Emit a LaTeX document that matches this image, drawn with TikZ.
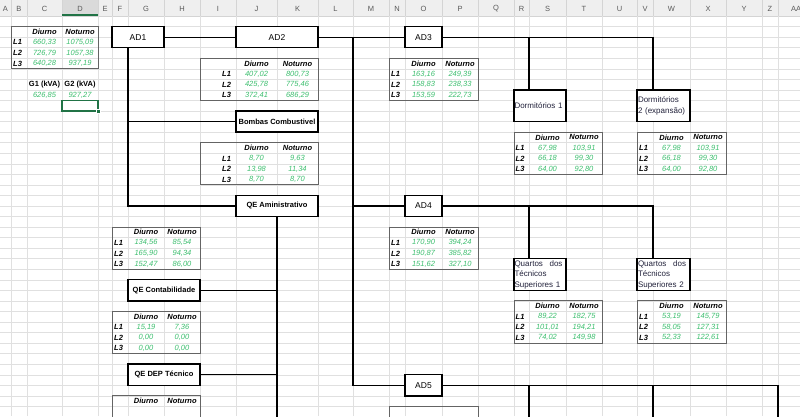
\documentclass[tikz,border=0pt]{standalone}
\usepackage{fontspec}
\setmainfont{Liberation Sans}
\usetikzlibrary{positioning}

\definecolor{grade}{RGB}{224,224,224}
\definecolor{cabecalho}{RGB}{239,239,239}
\definecolor{cabsel}{RGB}{218,218,218}
\definecolor{sepcab}{RGB}{212,212,212}
\definecolor{verdevalor}{RGB}{60,190,110}
\definecolor{verdeexcel}{RGB}{33,115,70}
\definecolor{bordatab}{RGB}{100,100,100}
\definecolor{letracol}{RGB}{90,90,90}
\definecolor{textocaixa}{RGB}{35,35,60}

\tikzset{
  caixa/.style={draw, line width=1.4pt, fill=white, inner sep=0pt,
    font=\fontsize{8.5}{10}\selectfont},
  caixanegrito/.style={caixa, font=\fontsize{7.5}{9}\selectfont\bfseries},
  caixatexto/.style={caixa, font=\fontsize{8}{10.55}\selectfont, align=left,
    text width=51pt, text=textocaixa},
  liga/.style={line width=1.2pt},
  cab/.style={font=\fontsize{7.5}{9}\selectfont\bfseries\itshape, inner sep=0pt},
  valor/.style={font=\fontsize{7.5}{9}\selectfont\itshape, text=verdevalor, inner sep=0pt},
  letra/.style={font=\fontsize{7.5}{9}\selectfont, text=letracol, inner sep=0pt},
  tabborda/.style={draw=bordatab, line width=0.9pt},
}

% tabela de cargas: nome, x da borda, x Diurno, x Noturno, x final, y do topo
\newcommand{\tabcarga}[6]{%
  \def\tnome{#1}\def\txa{#2}\def\txb{#3}\def\txc{#4}\def\txd{#5}\def\tya{#6}%
  \tabvalores}
% valores: L1 diurno/noturno, L2 diurno/noturno, L3 diurno/noturno
\newcommand{\tabvalores}[6]{%
  \draw[tabborda] (\txa,\tya) rectangle (\txd,{\tya+42.2});
  \node[cab] (\tnome-d) at ({(\txb+\txc)/2},{\tya+5.275}) {Diurno};
  \node[cab] (\tnome-n) at ({(\txc+\txd)/2},{\tya+5.275}) {Noturno};
  \node[cab, anchor=west] (\tnome-l1) at ({max(\txa+1.5,\txb-14)},{\tya+15.825}) {L1};
  \node[cab, anchor=west] (\tnome-l2) at ({max(\txa+1.5,\txb-14)},{\tya+26.375}) {L2};
  \node[cab, anchor=west] (\tnome-l3) at ({max(\txa+1.5,\txb-14)},{\tya+36.925}) {L3};
  \node[valor] (\tnome-d1) at ({(\txb+\txc)/2},{\tya+15.825}) {#1};
  \node[valor] (\tnome-n1) at ({(\txc+\txd)/2},{\tya+15.825}) {#2};
  \node[valor] (\tnome-d2) at ({(\txb+\txc)/2},{\tya+26.375}) {#3};
  \node[valor] (\tnome-n2) at ({(\txc+\txd)/2},{\tya+26.375}) {#4};
  \node[valor] (\tnome-d3) at ({(\txb+\txc)/2},{\tya+36.925}) {#5};
  \node[valor] (\tnome-n3) at ({(\txc+\txd)/2},{\tya+36.925}) {#6};
}

\begin{document}
\begin{tikzpicture}[x=1pt, y=-1pt]

      \useasboundingbox (0,0) rectangle (800,416);
      \clip (0,0) rectangle (800,416);

      % Cabecalho das colunas
      \fill[cabecalho] (0,0) rectangle (800,16);
      \fill[cabsel] (62,0) rectangle (98,16);
      \foreach \x in {11,27,62,98,112,128,164,200,236,277,318,353,389,405,442,478,514,529,566,602,637,653,690,726,762,778}
        \draw[sepcab] (\x,0) -- (\x,16);
      \draw[sepcab] (0,16) -- (800,16);
      \draw[verdeexcel, line width=1.5pt] (62,15.2) -- (98,15.2);
      \foreach \l/\x in {A/5.5, B/19, C/44.5, D/80, E/105, F/120, G/146, H/182, I/218, J/256.5, K/297.5, L/335.5, M/371, N/397, O/423.5, P/460, Q/496, R/521.5, S/547.5, T/584, U/619.5, V/645, W/671.5, X/708, Y/744, Z/770, AA/796}
        \node[letra] (col-\l) at (\x,8.5) {\l};

      % Grade da planilha
      \foreach \x in {11,27,62,98,112,128,164,200,236,277,318,353,389,405,442,478,514,529,566,602,637,653,690,726,762,778}
        \draw[grade] (\x,16) -- (\x,416);
      \foreach \k in {1,...,38}
        \draw[grade] (0,{16+10.55*\k}) -- (800,{16+10.55*\k});

      % Totais e geradores
      \tabcarga{tger}{11}{27}{62}{98}{26.55}{660,33}{1075,09}{726,79}{1057,38}{640,28}{937,19}
      \node[cab, font=\fontsize{7.5}{9}\selectfont\bfseries] (g1) at (44.5,84.6) {G1 (kVA)};
      \node[cab, font=\fontsize{7.5}{9}\selectfont\bfseries] (g2) at (80,84.6) {G2 (kVA)};
      \node[valor] (g1-val) at (44.5,95.1) {626,85};
      \node[valor] (g2-val) at (80,95.1) {927,27};
      \draw[verdeexcel, line width=1.6pt] (62,100.4) rectangle (98,110.95);
      \fill[verdeexcel, draw=white, line width=0.5pt] (96.2,109.2) rectangle (99.8,112.8);

      % Tabelas dos quadros
      \tabcarga{tad2}{200}{236}{277}{318}{58.2}{407,02}{800,73}{425,78}{775,46}{372,41}{686,29}
      \tabcarga{tbomb}{200}{236}{277}{318}{142.6}{8,70}{9,63}{13,98}{11,34}{8,70}{8,70}
      \tabcarga{tadm}{112}{128}{164}{200}{227}{134,56}{85,54}{165,90}{94,34}{152,47}{86,00}
      \tabcarga{tcont}{112}{128}{164}{200}{311.4}{15,19}{7,36}{0,00}{0,00}{0,00}{0,00}
      \tabcarga{tad3}{389}{405}{442}{478}{58.2}{163,16}{249,39}{158,83}{238,33}{153,59}{222,73}
      \tabcarga{tad4}{389}{405}{442}{478}{227}{170,90}{394,24}{190,87}{385,82}{151,62}{327,10}
      \tabcarga{tdorm1}{514}{529}{566}{602}{132.05}{67,98}{103,91}{66,18}{99,30}{64,00}{92,80}
      \tabcarga{tdorm2}{637}{653}{690}{726}{132.05}{67,98}{103,91}{66,18}{99,30}{64,00}{92,80}
      \tabcarga{tqrt1}{514}{529}{566}{602}{300.85}{89,22}{182,75}{101,01}{194,21}{74,02}{149,98}
      \tabcarga{tqrt2}{637}{653}{690}{726}{300.85}{53,19}{145,79}{58,05}{127,31}{52,33}{122,61}

      % Tabelas cortadas na borda de baixo
      \draw[tabborda] (112,395.8) rectangle (200,440);
      \node[cab] (tdep-d) at (146,401.1) {Diurno};
      \node[cab] (tdep-n) at (182,401.1) {Noturno};
      \draw[tabborda] (389,406.35) rectangle (478,450);

      % Quadros
      \node[caixa, minimum width=52pt, minimum height=21.1pt] (ad1) at (138,37.1) {AD1};
      \node[caixa, minimum width=82pt, minimum height=21.1pt] (ad2) at (277,37.1) {AD2};
      \node[caixa, minimum width=37pt, minimum height=21.1pt] (ad3) at (423.5,37.1) {AD3};
      \node[caixa, minimum width=37pt, minimum height=21.1pt] (ad4) at (423.5,205.9) {AD4};
      \node[caixa, minimum width=37pt, minimum height=21.1pt] (ad5) at (423.5,385.25) {AD5};
      \node[caixanegrito, minimum width=82pt, minimum height=21.1pt] (bombas) at (277,121.5) {Bombas Combustivel};
      \node[caixanegrito, minimum width=82pt, minimum height=21.1pt] (qeadm) at (277,205.9) {QE Aministrativo};
      \node[caixanegrito, minimum width=72pt, minimum height=21.1pt] (qecont) at (164,290.3) {QE Contabilidade};
      \node[caixanegrito, minimum width=72pt, minimum height=21.1pt] (qedep) at (164,374.7) {QE DEP T\'ecnico};
      \node[caixatexto, minimum width=52pt, minimum height=31.65pt] (dorm1) at (540,105.675) {Dormit\'orios 1};
      \node[caixatexto, minimum width=53pt, minimum height=31.65pt] (dorm2) at (663.5,105.675) {Dormit\'orios\\2 (expans\~ao)};
      \node[caixatexto, minimum width=52pt, minimum height=31.65pt] (qrt1) at (540,274.475) {\makebox[48pt][l]{Quartos\hfill dos}\\T\'ecnicos\\Superiores 1};
      \node[caixatexto, minimum width=53pt, minimum height=31.65pt] (qrt2) at (663.5,274.475) {\makebox[48pt][l]{Quartos\hfill dos}\\T\'ecnicos\\Superiores 2};

      % Pontos de derivacao
      \coordinate (bus) at (353,37.1);
      \coordinate (ad1-desce) at (128,47.65);
      \coordinate (ad3-r) at (529,37.1);
      \coordinate (ad3-fim) at (653,37.1);
      \coordinate (ad4-r) at (529,205.9);
      \coordinate (ad4-fim) at (653,205.9);
      \coordinate (ad5-fim) at (778,385.25);
      \coordinate (qeadm-fundo) at (277,420);

      % Ligacoes
      \draw[liga] (ad1.east) -- (ad2.west);
      \draw[liga] (ad2.east) -- (ad3.west);
      \draw[liga] (ad3.east) -- (ad3-fim) -- (ad3-fim |- dorm2.north);
      \draw[liga] (ad3-r) -- (ad3-r |- dorm1.north);
      \draw[liga] (bus) |- (ad5.west);
      \draw[liga] (bus |- ad4.west) -- (ad4.west);
      \draw[liga] (ad4.east) -- (ad4-fim) -- (ad4-fim |- qrt2.north);
      \draw[liga] (ad4-r) -- (ad4-r |- qrt1.north);
      \draw[liga] (ad5.east) -- (ad5-fim) -- (ad5-fim |- qeadm-fundo);
      \draw[liga] (ad5.east -| ad3-r) -- (ad3-r |- qeadm-fundo);
      \draw[liga] (ad5.east -| ad3-fim) -- (ad3-fim |- qeadm-fundo);
      \draw[liga] (ad1-desce) |- (qeadm.west);
      \draw[liga] (ad1-desce |- bombas.west) -- (bombas.west);
      \draw[liga] (qeadm.south) -- (qeadm-fundo);
      \draw[liga] (qeadm.south |- qecont.east) -- (qecont.east);
      \draw[liga] (qeadm.south |- qedep.east) -- (qedep.east);

    \end{tikzpicture}
\end{document}
